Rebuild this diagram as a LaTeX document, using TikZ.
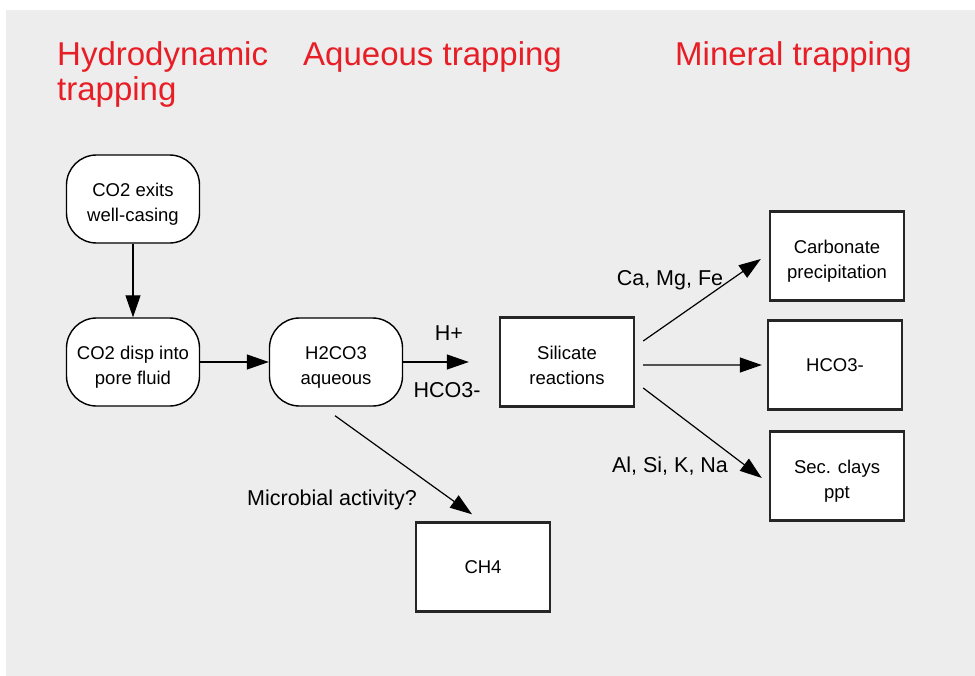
\documentclass[tikz,border=0pt]{standalone}
\usepackage{fontspec}
\setmainfont{Liberation Sans}
\usetikzlibrary{positioning,arrows.meta}
\definecolor{panelgray}{RGB}{237,237,237}
\definecolor{titlered}{RGB}{232,30,38}
\newcommand{\hiline}{\rule{0pt}{23bp}}
\newcommand{\loline}{\rule[-4bp]{0pt}{4bp}}

\begin{document}
\begin{tikzpicture}[x=1bp,y=-1bp,on grid,
  rbox/.style={draw,line width=1.4bp,rounded corners=30bp,fill=white,
    minimum width=133bp,minimum height=88bp,inner sep=0pt,align=center,
    font=\fontsize{18.5bp}{25bp}\selectfont},
  sbox/.style={draw=black!85,line width=2.4bp,fill=white,
    minimum width=134bp,minimum height=89bp,inner sep=0pt,align=center,
    font=\fontsize{18.5bp}{25bp}\selectfont},
  ttl/.style={text=titlered,inner sep=0pt,align=left,
    font=\fontsize{33bp}{35bp}\selectfont},
  lbl/.style={inner sep=0pt,anchor=base,font=\fontsize{21.5bp}{24bp}\selectfont},
  flow/.style={-{Triangle[length=22bp,width=15bp]},line width=1.2bp}]
  \useasboundingbox (0,0) rectangle (975,676);
  \fill[panelgray] (6,10) rectangle (975,676);

  % titles
  \node[ttl,anchor=north west] (hydro) at (57,41) {Hydrodynamic\\trapping};
  \node[ttl,anchor=base west] (aqueous) at (303,66) {Aqueous trapping};
  \node[ttl,anchor=base west] (mineral) at (675,66) {Mineral trapping};

  % boxes
  \node[rbox] (exits) at (133,199) {\hiline CO2 exits\\well-casing\loline};
  \node[rbox] (disp) [below=163bp of exits] {\hiline CO2 disp into\\pore fluid\loline};
  \node[rbox] (h2co3) [right=203bp of disp] {\hiline H2CO3\\aqueous\loline};
  \node[sbox] (sil) [right=231bp of h2co3] {\hiline Silicate\\reactions\loline};
  \node[sbox] (carb) [above right=106bp and 270bp of sil] {\hiline Carbonate\\precipitation\loline};
  \node[sbox] (hco) [below right=3bp and 268bp of sil] {HCO3-};
  \node[sbox] (clays) [below right=114bp and 270bp of sil] {\hiline Sec. clays\\ppt\loline};
  \node[sbox] (ch4) [below right=205bp and 147bp of h2co3] {CH4};

  % labels
  \node[lbl] (hplus) at (449,340) {H+};
  \node[lbl] (bicarb) at (447,397) {HCO3-};
  \node[lbl] (cations) at (670,285) {Ca, Mg, Fe};
  \node[lbl] (alsi) at (670,472) {Al, Si, K, Na};
  \node[lbl] (microbe) at (332,505) {Microbial activity?};

  \path[flow]
    (exits) edge (disp)
    (disp) edge (h2co3)
    (h2co3) edge[shorten >=30bp] (sil)
    ([shift={(8,-21)}]sil.east) edge ([shift={(-8,3)}]carb.west)
    ([shift={(8,3)}]sil.east) edge ([shift={(-5,0)}]hco.west)
    ([shift={(8,26)}]sil.east) edge ([shift={(-7,2)}]clays.west)
    ([shift={(-1,9)}]h2co3.south) edge ([shift={(-11,-7)}]ch4.north);
\end{tikzpicture}
\end{document}
